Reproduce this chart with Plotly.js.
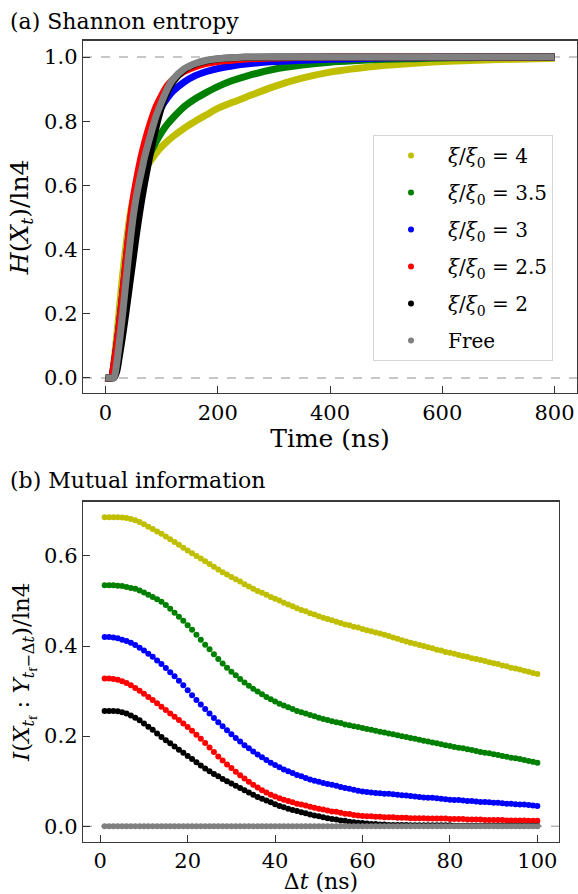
<!DOCTYPE html>
<html>
<head>
<meta charset="utf-8">
<script src="https://cdn.plot.ly/plotly-3.0.1.min.js"></script>
<style>html,body{margin:0;padding:0;background:#fff;}#chart{width:578px;height:894px;}</style>
</head>
<body>
<div id="chart"></div>
<script>
// ---------- (a) Shannon entropy ----------
const timeNs = [0,10,15,20,25,30,35,40,45,50,55,60,65,70,80,90,100,110,120,140,160,180,200,225,250,300,350,400,450,500,550,600,650,700,750,800];
const H_xi4   = [0,0,0.05,0.13,0.22,0.31,0.39,0.46,0.52,0.56,0.59,0.615,0.635,0.65,0.675,0.70,0.72,0.737,0.752,0.778,0.80,0.82,0.84,0.858,0.875,0.908,0.934,0.953,0.965,0.974,0.981,0.986,0.989,0.992,0.994,0.996];
const H_xi35  = [0,0,0.04,0.10,0.17,0.25,0.33,0.41,0.48,0.53,0.57,0.605,0.635,0.66,0.70,0.735,0.765,0.79,0.81,0.845,0.87,0.89,0.908,0.926,0.94,0.962,0.975,0.984,0.989,0.993,0.995,0.997,0.998,0.999,1.0,1.0];
const H_xi3   = [0,0,0.04,0.10,0.17,0.25,0.335,0.42,0.495,0.555,0.60,0.64,0.675,0.705,0.76,0.805,0.845,0.872,0.893,0.922,0.942,0.955,0.964,0.972,0.978,0.986,0.99,0.993,0.995,0.997,0.998,0.999,1.0,1.0,1.0,1.0];
const H_xi25  = [0,0,0.04,0.10,0.17,0.25,0.335,0.42,0.50,0.565,0.615,0.66,0.70,0.735,0.795,0.845,0.88,0.91,0.93,0.955,0.97,0.98,0.986,0.99,0.994,0.997,0.999,1.0,1.0,1.0,1.0,1.0,1.0,1.0,1.0,1.0];
const H_xi2   = [0,0,0,0.02,0.07,0.125,0.185,0.25,0.315,0.38,0.445,0.505,0.56,0.61,0.70,0.78,0.845,0.89,0.922,0.96,0.978,0.988,0.994,0.997,0.999,1.0,1.0,1.0,1.0,1.0,1.0,1.0,1.0,1.0,1.0,1.0];
const H_free  = [0,0,0,0.045,0.115,0.19,0.275,0.36,0.44,0.51,0.565,0.61,0.65,0.69,0.755,0.815,0.86,0.90,0.93,0.963,0.98,0.99,0.995,0.998,1.0,1.0,1.0,1.0,1.0,1.0,1.0,1.0,1.0,1.0,1.0,1.0];

// ---------- (b) Mutual information ----------
const deltaT = [1,2,3,4,5,6,7,8,9,10,11,12,13,14,15,16,17,18,19,20,21,22,23,24,25,26,27,28,29,30,31,32,33,34,35,36,37,38,39,40,41,42,43,44,45,46,47,48,49,50,51,52,53,54,55,56,57,58,59,60,61,62,63,64,65,66,67,68,69,70,71,72,73,74,75,76,77,78,79,80,81,82,83,84,85,86,87,88,89,90,91,92,93,94,95,96,97,98,99,100];
const I_xi4 = [0.686,0.686,0.686,0.686,0.685,0.684,0.682,0.679,0.675,0.670,
  0.665,0.660,0.654,0.649,0.643,0.637,0.631,0.625,0.618,0.612,
  0.606,0.600,0.594,0.588,0.582,0.576,0.570,0.564,0.559,0.553,
  0.548,0.543,0.537,0.532,0.527,0.522,0.518,0.514,0.509,0.505,
  0.501,0.496,0.492,0.488,0.484,0.480,0.477,0.473,0.470,0.466,
  0.463,0.460,0.457,0.454,0.451,0.448,0.446,0.443,0.441,0.438,
  0.435,0.433,0.430,0.428,0.425,0.422,0.419,0.416,0.413,0.410,
  0.407,0.405,0.402,0.400,0.397,0.395,0.392,0.390,0.387,0.385,
  0.383,0.380,0.378,0.376,0.373,0.371,0.369,0.367,0.364,0.362,
  0.360,0.357,0.355,0.352,0.350,0.348,0.345,0.343,0.340,0.338];
const I_xi35 = [0.535,0.535,0.535,0.534,0.533,0.531,0.529,0.527,0.523,0.519,
  0.514,0.509,0.504,0.498,0.491,0.483,0.474,0.465,0.456,0.446,
  0.436,0.425,0.414,0.403,0.393,0.382,0.371,0.361,0.352,0.343,
  0.335,0.327,0.319,0.312,0.305,0.299,0.293,0.287,0.282,0.277,
  0.272,0.268,0.264,0.260,0.256,0.253,0.250,0.247,0.244,0.241,
  0.238,0.236,0.233,0.231,0.229,0.226,0.224,0.222,0.220,0.218,
  0.216,0.214,0.212,0.210,0.208,0.206,0.204,0.202,0.200,0.198,
  0.196,0.194,0.192,0.190,0.188,0.186,0.184,0.182,0.180,0.178,
  0.176,0.174,0.173,0.171,0.169,0.167,0.165,0.163,0.162,0.160,
  0.158,0.156,0.154,0.152,0.151,0.149,0.147,0.145,0.143,0.141];
const I_xi3 = [0.420,0.420,0.419,0.417,0.414,0.411,0.407,0.402,0.396,0.390,
  0.383,0.376,0.368,0.360,0.351,0.342,0.333,0.323,0.313,0.302,
  0.291,0.280,0.270,0.260,0.250,0.240,0.231,0.222,0.213,0.204,
  0.196,0.188,0.180,0.173,0.166,0.159,0.153,0.147,0.141,0.136,
  0.131,0.126,0.122,0.118,0.114,0.111,0.107,0.104,0.101,0.099,
  0.096,0.094,0.092,0.090,0.087,0.085,0.083,0.081,0.079,0.077,
  0.076,0.075,0.074,0.073,0.072,0.072,0.071,0.070,0.069,0.068,
  0.067,0.066,0.065,0.064,0.063,0.063,0.062,0.061,0.060,0.059,
  0.058,0.058,0.057,0.056,0.056,0.055,0.054,0.054,0.053,0.052,
  0.052,0.051,0.050,0.050,0.049,0.048,0.048,0.047,0.046,0.045];
const I_xi25 = [0.328,0.328,0.327,0.325,0.322,0.318,0.313,0.307,0.301,0.294,
  0.287,0.280,0.273,0.265,0.258,0.250,0.243,0.236,0.228,0.220,
  0.212,0.203,0.194,0.185,0.175,0.165,0.155,0.146,0.137,0.129,
  0.121,0.113,0.106,0.099,0.092,0.086,0.080,0.075,0.070,0.066,
  0.062,0.059,0.056,0.053,0.050,0.048,0.046,0.043,0.041,0.039,
  0.037,0.035,0.033,0.032,0.030,0.028,0.027,0.025,0.024,0.023,
  0.022,0.022,0.021,0.021,0.020,0.020,0.020,0.019,0.019,0.019,
  0.018,0.018,0.018,0.018,0.017,0.017,0.017,0.017,0.017,0.016,
  0.016,0.016,0.016,0.015,0.015,0.015,0.015,0.014,0.014,0.014,
  0.014,0.014,0.013,0.013,0.013,0.013,0.013,0.012,0.012,0.012];
const I_xi2 = [0.256,0.256,0.256,0.255,0.253,0.250,0.246,0.241,0.235,0.228,
  0.221,0.214,0.206,0.198,0.191,0.184,0.177,0.170,0.163,0.156,
  0.149,0.142,0.135,0.128,0.122,0.116,0.111,0.105,0.100,0.095,
  0.090,0.085,0.080,0.075,0.070,0.065,0.061,0.057,0.053,0.049,
  0.045,0.042,0.039,0.036,0.034,0.031,0.029,0.026,0.024,0.022,
  0.020,0.018,0.016,0.015,0.013,0.012,0.010,0.009,0.008,0.007,
  0.006,0.005,0.005,0.004,0.004,0.003,0.003,0.003,0.003,0.003,
  0.002,0.002,0.002,0.002,0.002,0.002,0.002,0.002,0.002,0.002,
  0.001,0.001,0.001,0.001,0.001,0.001,0.001,0.001,0.001,0.001,
  0.001,0.001,0.001,0.001,0.001,0.001,0.001,0.001,0.001,0.001];
const I_free = [0,0,0,0,0,0,0,0,0,0, 0,0,0,0,0,0,0,0,0,0, 0,0,0,0,0,0,0,0,0,0, 0,0,0,0,0,0,0,0,0,0, 0,0,0,0,0,0,0,0,0,0,
  0,0,0,0,0,0,0,0,0,0, 0,0,0,0,0,0,0,0,0,0, 0,0,0,0,0,0,0,0,0,0, 0,0,0,0,0,0,0,0,0,0, 0,0,0,0,0,0,0,0,0,0];

const seriesNames = ['<i>ξ</i>/<i>ξ</i><sub>0</sub> = 4','<i>ξ</i>/<i>ξ</i><sub>0</sub> = 3.5','<i>ξ</i>/<i>ξ</i><sub>0</sub> = 3','<i>ξ</i>/<i>ξ</i><sub>0</sub> = 2.5','<i>ξ</i>/<i>ξ</i><sub>0</sub> = 2','Free'];
const seriesColors = ['#bfbf00','#008000','#0000ff','#ff0000','#000000','#808080'];
const entropySeries = [H_xi4,H_xi35,H_xi3,H_xi25,H_xi2,H_free];
const mutualSeries = [I_xi4,I_xi35,I_xi3,I_xi25,I_xi2,I_free];
const refLevelsTop = [0,1];
const refLevelsBottom = [0];

const FONT = 'DejaVu Serif';
const data = [];
entropySeries.forEach((ys,i)=>{
  data.push({x:timeNs,y:ys,type:'scatter',mode:'lines',xaxis:'x',yaxis:'y',
    line:{color:seriesColors[i],width:7,shape:'spline',smoothing:0.8},
    name:seriesNames[i],legendgroup:'g'+i,showlegend:false,hoverinfo:'skip'});
});
mutualSeries.forEach((ys,i)=>{
  data.push({x:deltaT,y:ys,type:'scatter',mode:'markers',xaxis:'x2',yaxis:'y2',
    marker:{color:seriesColors[i],size:6,line:{width:0}},
    name:seriesNames[i],legendgroup:'g'+i,showlegend:true,hoverinfo:'skip'});
});

const axisCommon = {ticks:'inside',ticklen:7,tickwidth:1,tickcolor:'#333',showline:true,mirror:true,
  linecolor:'#3a3a3a',linewidth:1.3,showgrid:false,zeroline:false,
  tickfont:{family:FONT,size:21,color:'#000'}};

const shapes = [];
refLevelsTop.forEach(v=>shapes.push({type:'line',xref:'x domain',x0:0,x1:1,yref:'y',y0:v,y1:v,layer:'below',line:{color:'#b5b5b5',width:1.5,dash:'dash'}}));
refLevelsBottom.forEach(v=>shapes.push({type:'line',xref:'x2 domain',x0:0,x1:1,yref:'y2',y0:v,y1:v,layer:'below',line:{color:'#b5b5b5',width:1.5,dash:'dash'}}));

const layout = {
  width:578,height:894,margin:{l:0,r:0,t:0,b:0},
  paper_bgcolor:'#fff',plot_bgcolor:'#fff',
  font:{family:FONT,size:20,color:'#000'},
  showlegend:true,
  xaxis:Object.assign({},axisCommon,{domain:[0.1436,0.9983],range:[-40,840],anchor:'y',
    tickvals:[0,200,400,600,800],
    title:{text:'Time (ns)',font:{family:FONT,size:25},standoff:5}}),
  yaxis:Object.assign({},axisCommon,{domain:[0.5604,0.9545],range:[-0.047,1.051],anchor:'x',
    tickvals:[0,0.2,0.4,0.6,0.8,1.0],tickformat:'.1f',
    title:{text:'<i>H</i>(<i>X</i><sub><i>t</i></sub>)/ln4',font:{family:FONT,size:25},standoff:8}}),
  xaxis2:Object.assign({},axisCommon,{domain:[0.1436,0.9671],range:[-3.95,104.95],anchor:'y2',
    tickvals:[0,20,40,60,80,100],
    title:{text:'Δ<i>t</i> (ns)',font:{family:FONT,size:22},standoff:4}}),
  yaxis2:Object.assign({},axisCommon,{domain:[0.0585,0.4388],range:[-0.0343,0.7203],anchor:'x2',
    tickvals:[0,0.2,0.4,0.6],tickformat:'.1f',
    title:{text:'<i>I</i>(<i>X</i><sub><i>t</i><sub>f</sub></sub> : <i>Y</i><sub><i>t</i><sub>f</sub>−Δ<i>t</i></sub>)/ln4',font:{family:FONT,size:23},standoff:8}}),
  legend:{x:373/578,y:1-135/894,xanchor:'left',yanchor:'top',bgcolor:'#fff',bordercolor:'#d6d6d6',borderwidth:1,
    font:{family:FONT,size:20,color:'#000'},traceorder:'grouped',tracegroupgap:8,itemwidth:64},
  shapes:shapes,
  annotations:[
    {text:'(a) Shannon entropy',xref:'paper',yref:'paper',x:8/578,y:1-21/894,xanchor:'left',yanchor:'middle',showarrow:false,font:{family:FONT,size:22}},
    {text:'(b) Mutual information',xref:'paper',yref:'paper',x:8/578,y:1-480/894,xanchor:'left',yanchor:'middle',showarrow:false,font:{family:FONT,size:22}}
  ]
};
Plotly.newPlot('chart',data,layout,{staticPlot:true,displayModeBar:false});
</script>
</body>
</html>
